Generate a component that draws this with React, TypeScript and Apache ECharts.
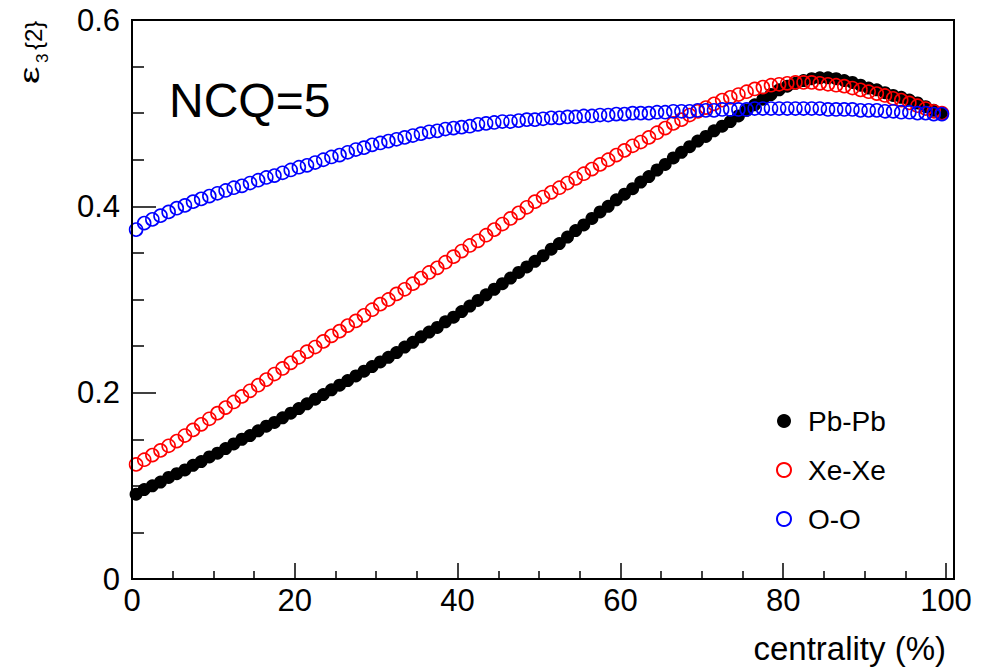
import React, { useEffect, useRef } from "react";
import * as echarts from "echarts";

const centrality = [
  0.5, 1.5, 2.5, 3.5, 4.5, 5.5, 6.5, 7.5, 8.5, 9.5,
  10.5, 11.5, 12.5, 13.5, 14.5, 15.5, 16.5, 17.5, 18.5, 19.5,
  20.5, 21.5, 22.5, 23.5, 24.5, 25.5, 26.5, 27.5, 28.5, 29.5,
  30.5, 31.5, 32.5, 33.5, 34.5, 35.5, 36.5, 37.5, 38.5, 39.5,
  40.5, 41.5, 42.5, 43.5, 44.5, 45.5, 46.5, 47.5, 48.5, 49.5,
  50.5, 51.5, 52.5, 53.5, 54.5, 55.5, 56.5, 57.5, 58.5, 59.5,
  60.5, 61.5, 62.5, 63.5, 64.5, 65.5, 66.5, 67.5, 68.5, 69.5,
  70.5, 71.5, 72.5, 73.5, 74.5, 75.5, 76.5, 77.5, 78.5, 79.5,
  80.5, 81.5, 82.5, 83.5, 84.5, 85.5, 86.5, 87.5, 88.5, 89.5,
  90.5, 91.5, 92.5, 93.5, 94.5, 95.5, 96.5, 97.5, 98.5, 99.5,
];

const pbpb = [
  0.091, 0.096, 0.100, 0.104, 0.109, 0.113, 0.117, 0.122, 0.126, 0.131,
  0.135, 0.140, 0.145, 0.150, 0.154, 0.159, 0.164, 0.168, 0.173, 0.178,
  0.183, 0.188, 0.193, 0.198, 0.203, 0.208, 0.213, 0.218, 0.223, 0.228,
  0.233, 0.238, 0.243, 0.249, 0.254, 0.260, 0.265, 0.270, 0.276, 0.281,
  0.287, 0.293, 0.299, 0.305, 0.311, 0.317, 0.323, 0.329, 0.335, 0.341,
  0.347, 0.354, 0.360, 0.367, 0.374, 0.380, 0.387, 0.394, 0.400, 0.407,
  0.413, 0.419, 0.426, 0.432, 0.439, 0.445, 0.452, 0.458, 0.464, 0.470,
  0.475, 0.481, 0.486, 0.491, 0.497, 0.503, 0.509, 0.515, 0.520, 0.525,
  0.529, 0.532, 0.535, 0.537, 0.538, 0.538, 0.537, 0.535, 0.533, 0.530,
  0.527, 0.525, 0.522, 0.519, 0.517, 0.514, 0.511, 0.507, 0.503, 0.499,
];

const xexe = [
  0.123, 0.128, 0.133, 0.138, 0.143, 0.148, 0.154, 0.160, 0.166, 0.172,
  0.178, 0.184, 0.190, 0.196, 0.202, 0.208, 0.214, 0.220, 0.226, 0.232,
  0.238, 0.244, 0.249, 0.255, 0.261, 0.266, 0.272, 0.277, 0.283, 0.289,
  0.295, 0.300, 0.306, 0.311, 0.317, 0.323, 0.329, 0.334, 0.340, 0.346,
  0.352, 0.358, 0.363, 0.369, 0.375, 0.381, 0.387, 0.393, 0.399, 0.405,
  0.410, 0.415, 0.420, 0.425, 0.430, 0.435, 0.440, 0.445, 0.450, 0.455,
  0.460, 0.465, 0.469, 0.474, 0.479, 0.484, 0.489, 0.493, 0.498, 0.502,
  0.506, 0.510, 0.514, 0.517, 0.520, 0.523, 0.526, 0.528, 0.530, 0.531,
  0.532, 0.533, 0.533, 0.533, 0.532, 0.531, 0.530, 0.529, 0.527, 0.525,
  0.523, 0.521, 0.519, 0.516, 0.514, 0.511, 0.508, 0.505, 0.502, 0.500,
];

const oo = [
  0.375, 0.382, 0.386, 0.390, 0.394, 0.398, 0.401, 0.405, 0.408, 0.411,
  0.414, 0.417, 0.420, 0.422, 0.425, 0.428, 0.431, 0.433, 0.436, 0.439,
  0.442, 0.444, 0.447, 0.450, 0.453, 0.455, 0.458, 0.461, 0.463, 0.466,
  0.468, 0.470, 0.472, 0.474, 0.476, 0.478, 0.480, 0.481, 0.483, 0.484,
  0.485, 0.486, 0.488, 0.489, 0.490, 0.491, 0.491, 0.492, 0.493, 0.493,
  0.494, 0.495, 0.495, 0.496, 0.496, 0.497, 0.497, 0.498, 0.498, 0.499,
  0.499, 0.500, 0.500, 0.500, 0.501, 0.501, 0.502, 0.502, 0.502, 0.503,
  0.503, 0.503, 0.504, 0.504, 0.504, 0.504, 0.505, 0.505, 0.505, 0.505,
  0.505, 0.505, 0.505, 0.505, 0.505, 0.504, 0.504, 0.504, 0.504, 0.503,
  0.503, 0.503, 0.502, 0.502, 0.501, 0.501, 0.500, 0.500, 0.499, 0.499,
];

const seriesNames = ["Pb-Pb", "Xe-Xe", "O-O"];
const annotationText = "NCQ=5";
const xTitle = "centrality (%)";
const yTitleParts = ["ε", "3", "{2}"];
const xTickRange = [0, 100];
const xTickStep = 20;
const yTickRange = [0, 0.6];
const yTickStep = 0.2;

const FONT = "'Liberation Sans', Arial, Helvetica, sans-serif";

export default function App() {
  const ref = useRef<HTMLDivElement>(null);

  useEffect(() => {
    if (!ref.current) return;
    const chart = echarts.init(ref.current, null, { renderer: "svg" });
    const zip = (ys: number[]) => centrality.map((x, i) => [x, ys[i]]);

    const styles = [
      { color: "#000000", borderColor: "#000000", borderWidth: 0 },
      { color: "rgba(0,0,0,0)", borderColor: "#ff0000", borderWidth: 1.6 },
      { color: "rgba(0,0,0,0)", borderColor: "#0000ff", borderWidth: 1.6 },
    ];
    const values = [pbpb, xexe, oo];

    chart.setOption({
      animation: false,
      backgroundColor: "#ffffff",
      grid: { left: 132, top: 20, width: 814, height: 559, show: false },
      xAxis: {
        type: "value",
        min: xTickRange[0],
        max: xTickRange[1],
        interval: xTickStep,
        axisLine: { show: true, onZero: false, lineStyle: { color: "#000", width: 2 } },
        axisTick: { show: true, inside: true, length: 16, lineStyle: { color: "#000", width: 1.5 } },
        minorTick: { show: true, splitNumber: 4, length: 8, lineStyle: { color: "#000", width: 1.5 } },
        splitLine: { show: false },
        minorSplitLine: { show: false },
        axisLabel: { color: "#000", fontSize: 31, fontFamily: FONT, margin: 6 },
      },
      yAxis: {
        type: "value",
        min: yTickRange[0],
        max: yTickRange[1],
        interval: yTickStep,
        axisLine: { show: true, onZero: false, lineStyle: { color: "#000", width: 2 } },
        axisTick: { show: true, inside: true, length: 24, lineStyle: { color: "#000", width: 1.5 } },
        minorTick: { show: true, splitNumber: 4, length: 12, lineStyle: { color: "#000", width: 1.5 } },
        splitLine: { show: false },
        minorSplitLine: { show: false },
        axisLabel: { color: "#000", fontSize: 31, fontFamily: FONT, margin: 12 },
      },
      legend: {
        orient: "vertical",
        left: 771,
        top: 402,
        itemWidth: 38,
        itemHeight: 14,
        itemGap: 21,
        textStyle: { color: "#000", fontSize: 28, fontFamily: FONT },
        data: seriesNames,
      },
      graphic: [
        {
          type: "rect",
          z: 100,
          shape: { x: 132, y: 20, width: 822, height: 559 },
          style: { fill: "none", stroke: "#000", lineWidth: 2 },
          silent: true,
        },
        {
          type: "text",
          left: 169,
          top: 76,
          style: { text: annotationText, fontSize: 48, fontFamily: FONT, fill: "#000" },
        },
        {
          type: "text",
          x: 946,
          y: 648,
          style: {
            text: xTitle,
            fontSize: 33,
            fontFamily: FONT,
            fill: "#000",
            textAlign: "right",
            textVerticalAlign: "middle",
          },
        },
        {
          type: "group",
          x: 0,
          y: 84,
          rotation: Math.PI / 2,
          children: [
            {
              type: "text",
              x: 0,
              y: 29,
              scaleX: 1.4,
              style: {
                text: yTitleParts[0],
                fontSize: 28,
                fontFamily: FONT,
                fill: "#000",
                textAlign: "left",
                textVerticalAlign: "middle",
              },
            },
            {
              type: "text",
              x: 21,
              y: 42,
              style: {
                text: yTitleParts[1],
                fontSize: 17,
                fontFamily: FONT,
                fill: "#000",
                textAlign: "left",
                textVerticalAlign: "middle",
              },
            },
            {
              type: "text",
              x: 34,
              y: 33,
              style: {
                text: yTitleParts[2],
                fontSize: 24,
                fontFamily: FONT,
                fill: "#000",
                textAlign: "left",
                textVerticalAlign: "middle",
              },
            },
          ],
        },
      ],
      series: seriesNames.map((name, i) => ({
        name,
        type: "scatter",
        symbol: "circle",
        symbolSize: 13,
        data: zip(values[i]),
        itemStyle: { ...styles[i], opacity: 1 },
        emphasis: { disabled: true },
        z: 2 + i,
      })),
    });

    return () => chart.dispose();
  }, []);

  return (
    <div
      ref={ref}
      style={{ position: "absolute", left: 0, top: 0, width: 989, height: 669 }}
    />
  );
}
